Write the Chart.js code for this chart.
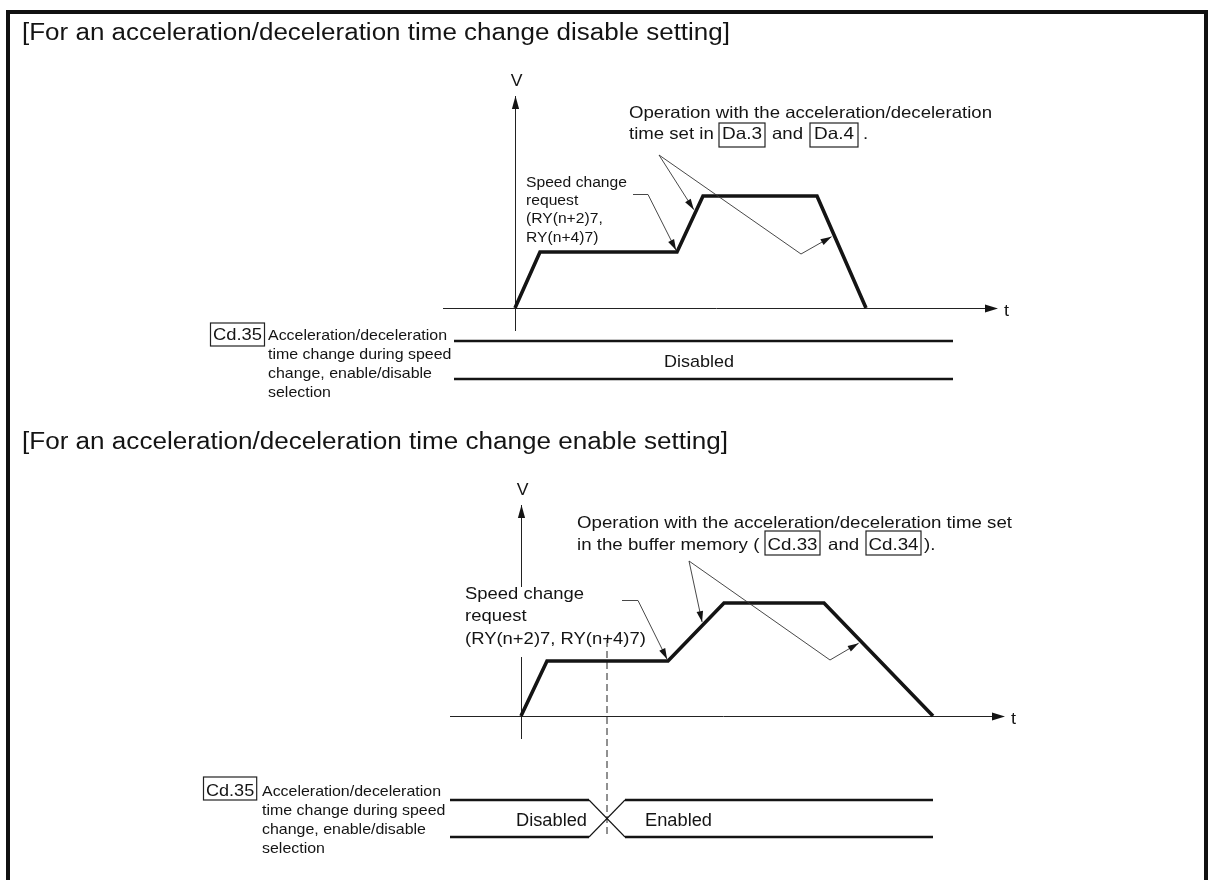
<!DOCTYPE html>
<html>
<head>
<meta charset="utf-8">
<script src="https://cdn.jsdelivr.net/npm/chart.js@4.4.0/dist/chart.umd.min.js"></script>
<style>
  body { margin: 0; background: #fff; width: 1216px; height: 880px; overflow: hidden; position: relative; }
  canvas { position: absolute; left: 0; }
  #frame { position: absolute; left: 6px; top: 10px; width: 1194px; height: 900px;
           border: 4px solid #111; border-bottom: none; pointer-events: none; }
</style>
</head>
<body>
<canvas id="disChart" width="1216" height="420" style="top:0"></canvas>
<canvas id="enChart" width="1216" height="460" style="top:420px"></canvas>
<div id="frame"></div>
<script>
// speed profile, acceleration/deceleration time change disabled
var disTime  = [0, 25, 162, 188, 302, 351];
var disSpeed = [0, 56, 56, 112, 112, 0];
// speed profile, acceleration/deceleration time change enabled
var enTime   = [0, 26, 147, 203, 303, 412];
var enSpeed  = [0, 55, 55, 113, 113, 0];
// Cd.35 state band, start/end time, and where it switches
var disBand  = [-61, 438];
var enBand   = [-71, 412];
var enSwitch = 86;
var bandLabels = ['Disabled', 'Enabled'];

var titles = ['[For an acceleration/deceleration time change disable setting]',
              '[For an acceleration/deceleration time change enable setting]'];
var cd35Lines = ['Acceleration/deceleration', 'time change during speed', 'change, enable/disable', 'selection'];
var reqLinesDis = ['Speed change', 'request', '(RY(n+2)7,', 'RY(n+4)7)'];
var reqLinesEn  = ['Speed change', 'request', '(RY(n+2)7, RY(n+4)7)'];

var FONT = '"Liberation Sans", Arial, sans-serif';
var INK = '#141414';

function setFont(ctx, size) { ctx.font = size + 'px ' + FONT; }

// draws text squeezed/stretched horizontally by k, returns drawn width
function txt(ctx, s, x, y, size, k, align) {
    setFont(ctx, size);
    var w = ctx.measureText(s).width;
    ctx.save();
    ctx.translate(x, y);
    ctx.scale(k, 1);
    ctx.fillStyle = INK;
    ctx.textBaseline = 'alphabetic';
    ctx.fillText(s, align === 'center' ? -w / 2 : 0, 0);
    ctx.restore();
    return w * k;
}
function fitK(ctx, s, size, width) {
    setFont(ctx, size);
    return width / ctx.measureText(s).width;
}
function boxed(ctx, s, x0, y0, x1, y1, bl, size) {
    ctx.strokeStyle = '#222';
    ctx.lineWidth = 1.2;
    ctx.strokeRect(x0, y0, x1 - x0, y1 - y0);
    var k = fitK(ctx, s, size, (x1 - x0) - 5);
    txt(ctx, s, (x0 + x1) / 2, bl, size, Math.min(k, 1.15), 'center');
}
function head(ctx, x0, y0, x1, y1, len, half) {
    var a = Math.atan2(y1 - y0, x1 - x0);
    ctx.beginPath();
    ctx.moveTo(x1, y1);
    ctx.lineTo(x1 - len * Math.cos(a) + half * Math.sin(a), y1 - len * Math.sin(a) - half * Math.cos(a));
    ctx.lineTo(x1 - len * Math.cos(a) - half * Math.sin(a), y1 - len * Math.sin(a) + half * Math.cos(a));
    ctx.closePath();
    ctx.fill();
}
function line(ctx, pts, w, color) {
    ctx.beginPath();
    ctx.moveTo(pts[0][0], pts[0][1]);
    for (var i = 1; i < pts.length; i++) ctx.lineTo(pts[i][0], pts[i][1]);
    ctx.lineWidth = w;
    ctx.strokeStyle = color;
    ctx.stroke();
}
// point on the profile segment i..i+1 at fraction f, in pixels
function onProfile(chart, times, speeds, i, f) {
    var t = times[i] + f * (times[i + 1] - times[i]);
    var v = speeds[i] + f * (speeds[i + 1] - speeds[i]);
    return [chart.scales.x.getPixelForValue(t), chart.scales.y.getPixelForValue(v)];
}
// leader line that ends with an arrow on the profile
function leader(ctx, chart, times, speeds, pts, seg, f, back) {
    var tip = onProfile(chart, times, speeds, seg, f);
    var prev = pts[pts.length - 1];
    var a = Math.atan2(tip[1] - prev[1], tip[0] - prev[0]);
    tip = [tip[0] - back * Math.cos(a), tip[1] - back * Math.sin(a)];
    line(ctx, pts.concat([tip]), 0.9, '#333');
    ctx.fillStyle = INK;
    head(ctx, prev[0], prev[1], tip[0], tip[1], 11, 3.3);
}
function axes(ctx, chart, ax) {
    var x = chart.scales.x, y = chart.scales.y;
    var ox = x.getPixelForValue(0), oy = y.getPixelForValue(0);
    var vTop = y.getPixelForValue(ax.vMax), tEnd = x.getPixelForValue(ax.tMax);
    ctx.fillStyle = INK;
    // time axis
    line(ctx, [[x.getPixelForValue(ax.tMin), oy + 0.5], [tEnd - 8, oy + 0.5]], 1, '#222');
    head(ctx, tEnd - 20, oy + 0.5, tEnd, oy + 0.5, 13, 4);
    // speed axis (may be broken by a label)
    ax.vSegs.forEach(function (s) {
        line(ctx, [[ox + 0.5, y.getPixelForValue(s[0])], [ox + 0.5, y.getPixelForValue(s[1])]], 1, '#222');
    });
    head(ctx, ox + 0.5, vTop + 20, ox + 0.5, vTop, 13, 3.6);
    txt(ctx, 'V', ox + 1.5, vTop - 10, 16, 1.1, 'center');
    txt(ctx, 't', tEnd + 6, oy + 8, 16.5, 1.1);
}

function makeChart(id, times, speeds, bandSets, extra, yr, sr, xr, plugin) {
    var ds = [{
        data: times.map(function (t, i) { return {x: t, y: speeds[i]}; }),
        showLine: true, borderColor: INK, borderWidth: 3.6, pointRadius: 0,
        borderJoinStyle: 'miter', yAxisID: 'y'
    }];
    bandSets.forEach(function (b) {
        ds.push({
            data: b, showLine: true, borderColor: INK, pointRadius: 0, yAxisID: 'ys',
            borderWidth: 2.5,
            segment: { borderWidth: function (c) { return c.p0.parsed.y !== c.p1.parsed.y ? 1.1 : 2.5; } }
        });
    });
    extra.forEach(function (e) { ds.push(e); });
    return new Chart(document.getElementById(id), {
        type: 'scatter',
        data: { datasets: ds },
        options: {
            responsive: false, animation: false, devicePixelRatio: 1, events: [],
            layout: { padding: 0 },
            plugins: { legend: { display: false }, tooltip: { enabled: false } },
            scales: {
                x: { type: 'linear', min: xr[0], max: xr[1], display: false },
                y: { type: 'linear', min: yr[0], max: yr[1], display: false },
                ys: { type: 'linear', axis: 'y', min: sr[0], max: sr[1], display: false }
            }
        },
        plugins: [plugin]
    });
}

// band scale so that state 1 / 0 land on the two band rails
function bandRange(upper, lower, h) {
    var u = lower - upper;
    return [-(h - lower) / u, 1 + upper / u];
}

// ---------- disable setting ----------
makeChart('disChart', disTime, disSpeed,
    [[{x: disBand[0], y: 1}, {x: disBand[1], y: 1}],
     [{x: disBand[0], y: 0}, {x: disBand[1], y: 0}]],
    [], [308 - 420, 308], bandRange(341, 379, 420), [-515, 701],
    {
        id: 'disDeco',
        beforeDatasetsDraw: function (chart) {
            axes(chart.ctx, chart, {tMin: -72, tMax: 483, vMax: 212, vSegs: [[-23, 212]]});
        },
        afterDraw: function (chart) {
            var ctx = chart.ctx, k;
            txt(ctx, titles[0], 22, 39.5, 23, fitK(ctx, titles[0], 23, 708));
            // speed change request
            k = fitK(ctx, reqLinesDis[0], 14, 101);
            [187, 205, 223, 242].forEach(function (b, i) { txt(ctx, reqLinesDis[i], 526, b, 14, k); });
            leader(ctx, chart, disTime, disSpeed, [[633, 194.5], [648, 194.5]], 1, 1, 2);
            // operation note
            var l1 = 'Operation with the acceleration/deceleration';
            k = fitK(ctx, l1, 16.5, 363);
            txt(ctx, l1, 629, 118, 16.5, k);
            txt(ctx, 'time set in', 629, 139, 16.5, k);
            boxed(ctx, 'Da.3', 719, 123, 765, 147, 139, 16.5);
            txt(ctx, 'and', 772, 139, 16.5, k);
            boxed(ctx, 'Da.4', 810, 123, 858, 147, 139, 16.5);
            txt(ctx, '.', 863, 139, 16.5, k);
            leader(ctx, chart, disTime, disSpeed, [[659, 155]], 2, 0.71, 3);
            leader(ctx, chart, disTime, disSpeed, [[659, 155], [801, 254]], 4, 0.35, 3);
            // Cd.35 label
            boxed(ctx, 'Cd.35', 210.5, 323, 264.5, 346, 340, 16);
            k = fitK(ctx, cd35Lines[0], 14.5, 179);
            [340, 359, 378, 397].forEach(function (b, i) { txt(ctx, cd35Lines[i], 268, b, 14.5, k); });
            txt(ctx, bandLabels[0], 699, 366.5, 17, fitK(ctx, bandLabels[0], 17, 70), 'center');
        }
    });

// ---------- enable setting ----------
makeChart('enChart', enTime, enSpeed,
    [[{x: enBand[0], y: 1}, {x: enSwitch - 18, y: 1}, {x: enSwitch + 18, y: 0}, {x: enBand[1], y: 0}],
     [{x: enBand[0], y: 0}, {x: enSwitch - 18, y: 0}, {x: enSwitch + 18, y: 1}, {x: enBand[1], y: 1}]],
    [{
        data: [{x: enSwitch, y: 76}, {x: enSwitch, y: -122}], showLine: true, pointRadius: 0,
        borderColor: '#222', borderWidth: 1, borderDash: [7, 4], yAxisID: 'y'
    }],
    [296 - 460, 296], bandRange(380, 417, 460), [-521, 695],
    {
        id: 'enDeco',
        beforeDatasetsDraw: function (chart) {
            axes(chart.ctx, chart, {tMin: -71, tMax: 484, vMax: 211, vSegs: [[211, 129], [59, -23]]});
        },
        afterDraw: function (chart) {
            var ctx = chart.ctx, k;
            txt(ctx, titles[1], 22, 29, 23, fitK(ctx, titles[1], 23, 706));
            k = fitK(ctx, reqLinesEn[0], 16.3, 119);
            [179, 201, 224].forEach(function (b, i) { txt(ctx, reqLinesEn[i], 465, b, 16.3, k); });
            leader(ctx, chart, enTime, enSpeed, [[622, 180.5], [638, 180.5]], 1, 1, 2);
            var l1 = 'Operation with the acceleration/deceleration time set';
            k = fitK(ctx, l1, 16.5, 435);
            txt(ctx, l1, 577, 108, 16.5, k);
            txt(ctx, 'in the buffer memory (', 577, 130, 16.5, k);
            boxed(ctx, 'Cd.33', 765, 111, 820, 135, 130, 16.5);
            txt(ctx, 'and', 828, 130, 16.5, k);
            boxed(ctx, 'Cd.34', 866, 111, 921, 135, 130, 16.5);
            txt(ctx, ').', 924, 130, 16.5, k);
            leader(ctx, chart, enTime, enSpeed, [[689, 141]], 2, 0.62, 3);
            leader(ctx, chart, enTime, enSpeed, [[689, 141], [830, 240]], 4, 0.342, 3);
            boxed(ctx, 'Cd.35', 203.5, 357, 256.7, 380, 376, 16);
            k = fitK(ctx, cd35Lines[0], 14.5, 179);
            [376, 395, 414, 433].forEach(function (b, i) { txt(ctx, cd35Lines[i], 262, b, 14.5, k); });
            txt(ctx, bandLabels[0], 551.5, 405.5, 17.5, fitK(ctx, bandLabels[0], 17.5, 71), 'center');
            txt(ctx, bandLabels[1], 645, 405.5, 17.5, fitK(ctx, bandLabels[1], 17.5, 67));
        }
    });
</script>
</body>
</html>
